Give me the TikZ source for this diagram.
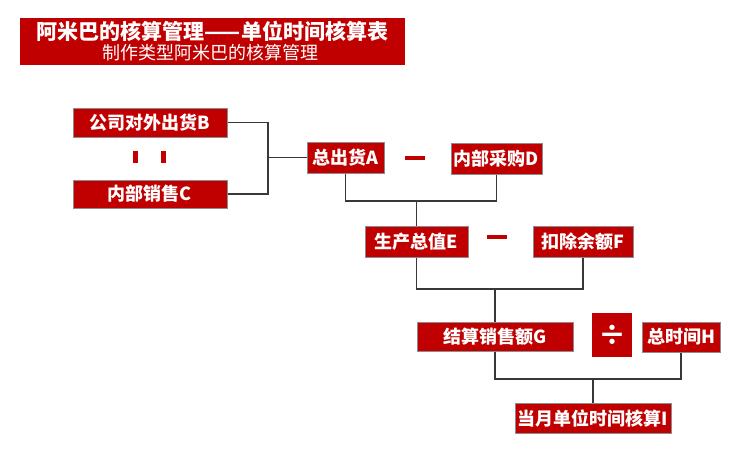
\documentclass[tikz,border=0pt]{standalone}
\usepackage{fontspec}
\setmainfont{Noto Sans CJK SC}
\definecolor{boxred}{HTML}{C00000}
\definecolor{rim}{HTML}{8C8C8C}
\tikzset{
  calcbox/.style={draw=rim, fill=boxred, text=white, line width=1pt, inner sep=0pt,
    font=\bfseries\fontsize{18}{18}\selectfont},
  link/.style={draw=black!78, line width=1.4pt},
}

\begin{document}
\begin{tikzpicture}[x=1pt, y=-1pt]
		\useasboundingbox (0,0) rectangle (742,463);
		% title band
		\node[fill=boxred, minimum width=385pt, minimum height=47pt, inner sep=0pt] (title) at (212.5,41.5) {};
		\node[text=white, font=\bfseries\fontsize{21}{21}\selectfont] (titletop) at (212.5,31) {阿米巴的核算管理——单位时间核算表};
		\node[text=white, font=\fontsize{18}{18}\selectfont] (titlesub) at (210.5,53) {制作类型阿米巴的核算管理};
		% accounting boxes
		\foreach \n/\x/\y/\w/\h/\txt in {B/150/122.5/154/29/公司对外出货B, C/150/194/154/28/内部销售C,
				A/345.5/157.5/77/31/总出货A, D/496.5/158.5/91/31/内部采购D,
				E/416.5/241.5/103/31/生产总值E, F/583/241.5/100/31/扣除余额F,
				G/495/336.5/156/29/结算销售额G, H/681/337/78/30/总时间H,
				I/593/418/156/30/当月单位时间核算I} {
			\node[calcbox, minimum width=\w pt, minimum height=\h pt] (\n) at (\x,\y) {\txt};
		}
		% operators
		\foreach \x in {135.5,163.5} {
			\fill[boxred] (\x-2.5,151) rectangle (\x+2.5,163);
		}
		\foreach \x/\y in {415/158, 497/237} {
			\fill[boxred] (\x-10,\y-1.6) rectangle (\x+10,\y+1.6);
		}
		\node[fill=boxred, text=white, minimum width=40pt, minimum height=44pt, inner sep=0pt,
			font=\bfseries\fontsize{28}{28}\selectfont] (div) at (612,335) {÷};
		% connectors
		\coordinate (jBC) at (268,157.5);
		\coordinate (jAD) at (416.5,201);
		\coordinate (jEF) at (495,289);
		\coordinate (jGH) at (593,379);
		\draw[link] (B.east) -| (jBC) |- (C.east);
		\draw[link] (jBC) -- (A.west);
		\draw[link] (A.south) |- (jAD) -| (D.south);
		\draw[link] (jAD) -- (E.north);
		\draw[link] (E.south) |- (jEF) -| (F.south);
		\draw[link] (jEF) -- (G.north);
		\draw[link] (G.south) |- (jGH) -| (H.south);
		\draw[link] (jGH) -- (I.north);
	\end{tikzpicture}
\end{document}
